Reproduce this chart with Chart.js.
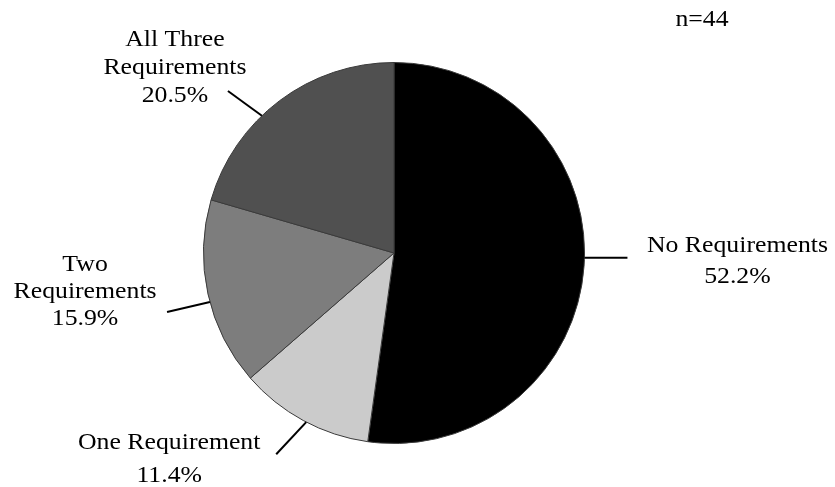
<!DOCTYPE html>
<html>
<head>
<meta charset="utf-8">
<script src="https://cdn.jsdelivr.net/npm/chart.js@4/dist/chart.umd.min.js"></script>
<style>
    html, body { margin: 0; padding: 0; background: #fff; }
    #wrap { width: 835px; height: 487px; position: relative; }
</style>
</head>
<body>
<div id="wrap"><canvas id="pieChart" width="835" height="487"></canvas></div>
<script>
// Chart data
const categories = ['No Requirements', 'One Requirement', 'Two Requirements', 'All Three Requirements'];
const labelLines = [['No Requirements'], ['One Requirement'], ['Two', 'Requirements'], ['All Three', 'Requirements']];
const percentages = [52.2, 11.4, 15.9, 20.5];
const sampleNote = 'n=44';

const sliceColors = ['#000000', '#cbcbcb', '#7d7d7d', '#505050'];

// Callout placement per slice: where on the rim the leader starts (deg shift
// from the slice middle), leader direction (deg) and length, then the first
// text baseline offset from the leader end
const calloutLayout = [
    { shift: -2.5, dir: 0, len: 43, dx: 110, dy: -6, lineHeight: 31 },
    { shift: -1, dir: 133, len: 44, dx: -107, dy: -5, lineHeight: 33 },
    { shift: -2.5, dir: 167, len: 44, dx: -82, dy: -41, lineHeight: 27 },
    { shift: -7, dir: 216, len: 42, dx: -53, dy: -45, lineHeight: 28 }
];

const FONT = '23px "Liberation Serif", "Times New Roman", serif';
const STRETCH = 1.12;

function drawText(ctx, text, x, y) {
    ctx.save();
    ctx.translate(x, y);
    ctx.scale(STRETCH, 1);
    ctx.fillText(text, 0, 0);
    ctx.restore();
}

const calloutPlugin = {
    id: 'callouts',
    afterDatasetsDraw(chart) {
        const ctx = chart.ctx;
        const arcs = chart.getDatasetMeta(0).data;
        ctx.save();
        ctx.fillStyle = '#000';
        ctx.strokeStyle = '#000';
        ctx.lineWidth = 2;
        ctx.font = FONT;
        ctx.textAlign = 'center';
        ctx.textBaseline = 'alphabetic';

        arcs.forEach((arc, i) => {
            const lay = calloutLayout[i];
            const mid = (arc.startAngle + arc.endAngle) / 2 + lay.shift * Math.PI / 180;
            const r = arc.outerRadius;
            const sx = arc.x + r * Math.cos(mid);
            const sy = arc.y + r * Math.sin(mid);
            const d = lay.dir * Math.PI / 180;
            const ex = sx + lay.len * Math.cos(d);
            const ey = sy + lay.len * Math.sin(d);

            ctx.beginPath();
            ctx.moveTo(sx, sy);
            ctx.lineTo(ex, ey);
            ctx.stroke();

            const lines = labelLines[i].concat([percentages[i].toFixed(1) + '%']);
            lines.forEach((line, k) => {
                drawText(ctx, line, ex + lay.dx, ey + lay.dy + k * lay.lineHeight);
            });
        });

        drawText(ctx, sampleNote, 702, 26);
        ctx.restore();
    }
};

new Chart(document.getElementById('pieChart'), {
    type: 'pie',
    data: {
        labels: categories,
        datasets: [{
            data: percentages,
            backgroundColor: sliceColors,
            borderColor: '#3a3a3a',
            borderWidth: 1
        }]
    },
    options: {
        responsive: false,
        animation: false,
        layout: {
            padding: { top: 62, bottom: 43, left: 0, right: 47 }
        },
        plugins: {
            legend: { display: false },
            tooltip: { enabled: false }
        }
    },
    plugins: [calloutPlugin]
});
</script>
</body>
</html>
